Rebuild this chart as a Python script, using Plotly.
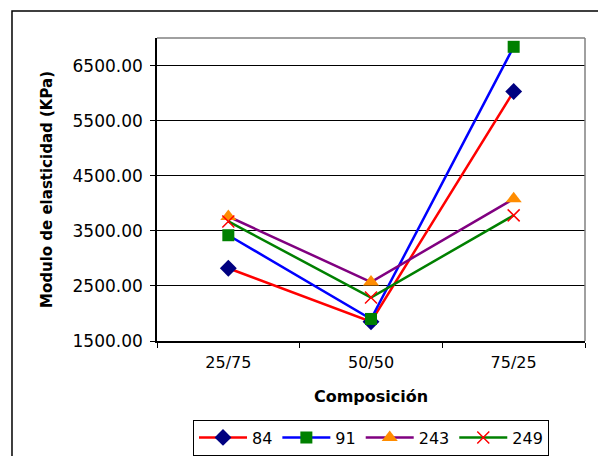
import plotly.graph_objects as go

categories = ["25/75", "50/50", "75/25"]
s84 = [2820, 1850, 6030]
s91 = [3420, 1900, 6840]
s243 = [3760, 2570, 4080]
s249 = [3670, 2290, 3780]
y_ticks = [1500, 2500, 3500, 4500, 5500, 6500]
y_tick_labels = ["1500.00", "2500.00", "3500.00", "4500.00", "5500.00", "6500.00"]

FONT = "DejaVu Sans"

fig = go.Figure()
fig.add_trace(go.Scatter(x=categories, y=s84, name="84", mode="lines+markers",
                         line=dict(color="#FF0000", width=2.5),
                         marker=dict(symbol="diamond", size=13, color="#000080")))
fig.add_trace(go.Scatter(x=categories, y=s91, name="91", mode="lines+markers",
                         line=dict(color="#0000FF", width=2.5),
                         marker=dict(symbol="square", size=12, color="#008000")))
fig.add_trace(go.Scatter(x=categories, y=s243, name="243", mode="lines+markers",
                         line=dict(color="#800080", width=2.5),
                         marker=dict(symbol="triangle-up", size=14, color="#FF8C00")))
fig.add_trace(go.Scatter(x=categories, y=s249, name="249", mode="lines+markers",
                         line=dict(color="#008000", width=2.5),
                         marker=dict(symbol="x-thin-open", size=12, color="#FF0000",
                                     line=dict(color="#FF0000", width=1.5))))

# gray top/right border of plot area
fig.add_shape(type="line", xref="paper", yref="paper", x0=0, x1=1, y0=1, y1=1,
              line=dict(color="#808080", width=1.5))
fig.add_shape(type="line", xref="paper", yref="paper", x0=1, x1=1, y0=0, y1=1,
              line=dict(color="#808080", width=1.5))
# outer chart border
fig.add_shape(type="rect", xref="paper", yref="paper",
              x0=-0.3388, x1=1.06, y0=1.089, y1=-0.45,
              line=dict(color="#000000", width=1.5))

fig.update_layout(
    width=598, height=456,
    margin=dict(l=157, r=13, t=38, b=115, autoexpand=False),
    paper_bgcolor="white", plot_bgcolor="white",
    font=dict(family=FONT, size=16, color="black"),
    showlegend=True,
    legend=dict(orientation="h", x=0.5, xanchor="center",
                yref="container", y=0.08, yanchor="top",
                bordercolor="black", borderwidth=1, font=dict(size=16),
                itemwidth=48, tracegroupgap=0),
    xaxis=dict(type="category", showgrid=False, showline=True, linecolor="black",
               linewidth=1.5, ticks="outside", tickson="boundaries", ticklen=5,
               tickcolor="black", range=[-0.5, 2.5], ticklabelstandoff=6,
               title=dict(text="<b>Composición</b>", font=dict(size=16), standoff=20)),
    yaxis=dict(range=[1500, 7000], tickvals=y_ticks, ticktext=y_tick_labels,
               showgrid=True, gridcolor="black", gridwidth=1,
               showline=True, linecolor="black", linewidth=1.5,
               ticks="outside", ticklen=5, tickcolor="black", zeroline=False,
               tickfont=dict(size=17), ticklabelstandoff=4,
               title=dict(text="<b>Modulo de elasticidad (KPa)</b>", font=dict(size=15),
                          standoff=16)),
)

fig.write_html("out.html")
